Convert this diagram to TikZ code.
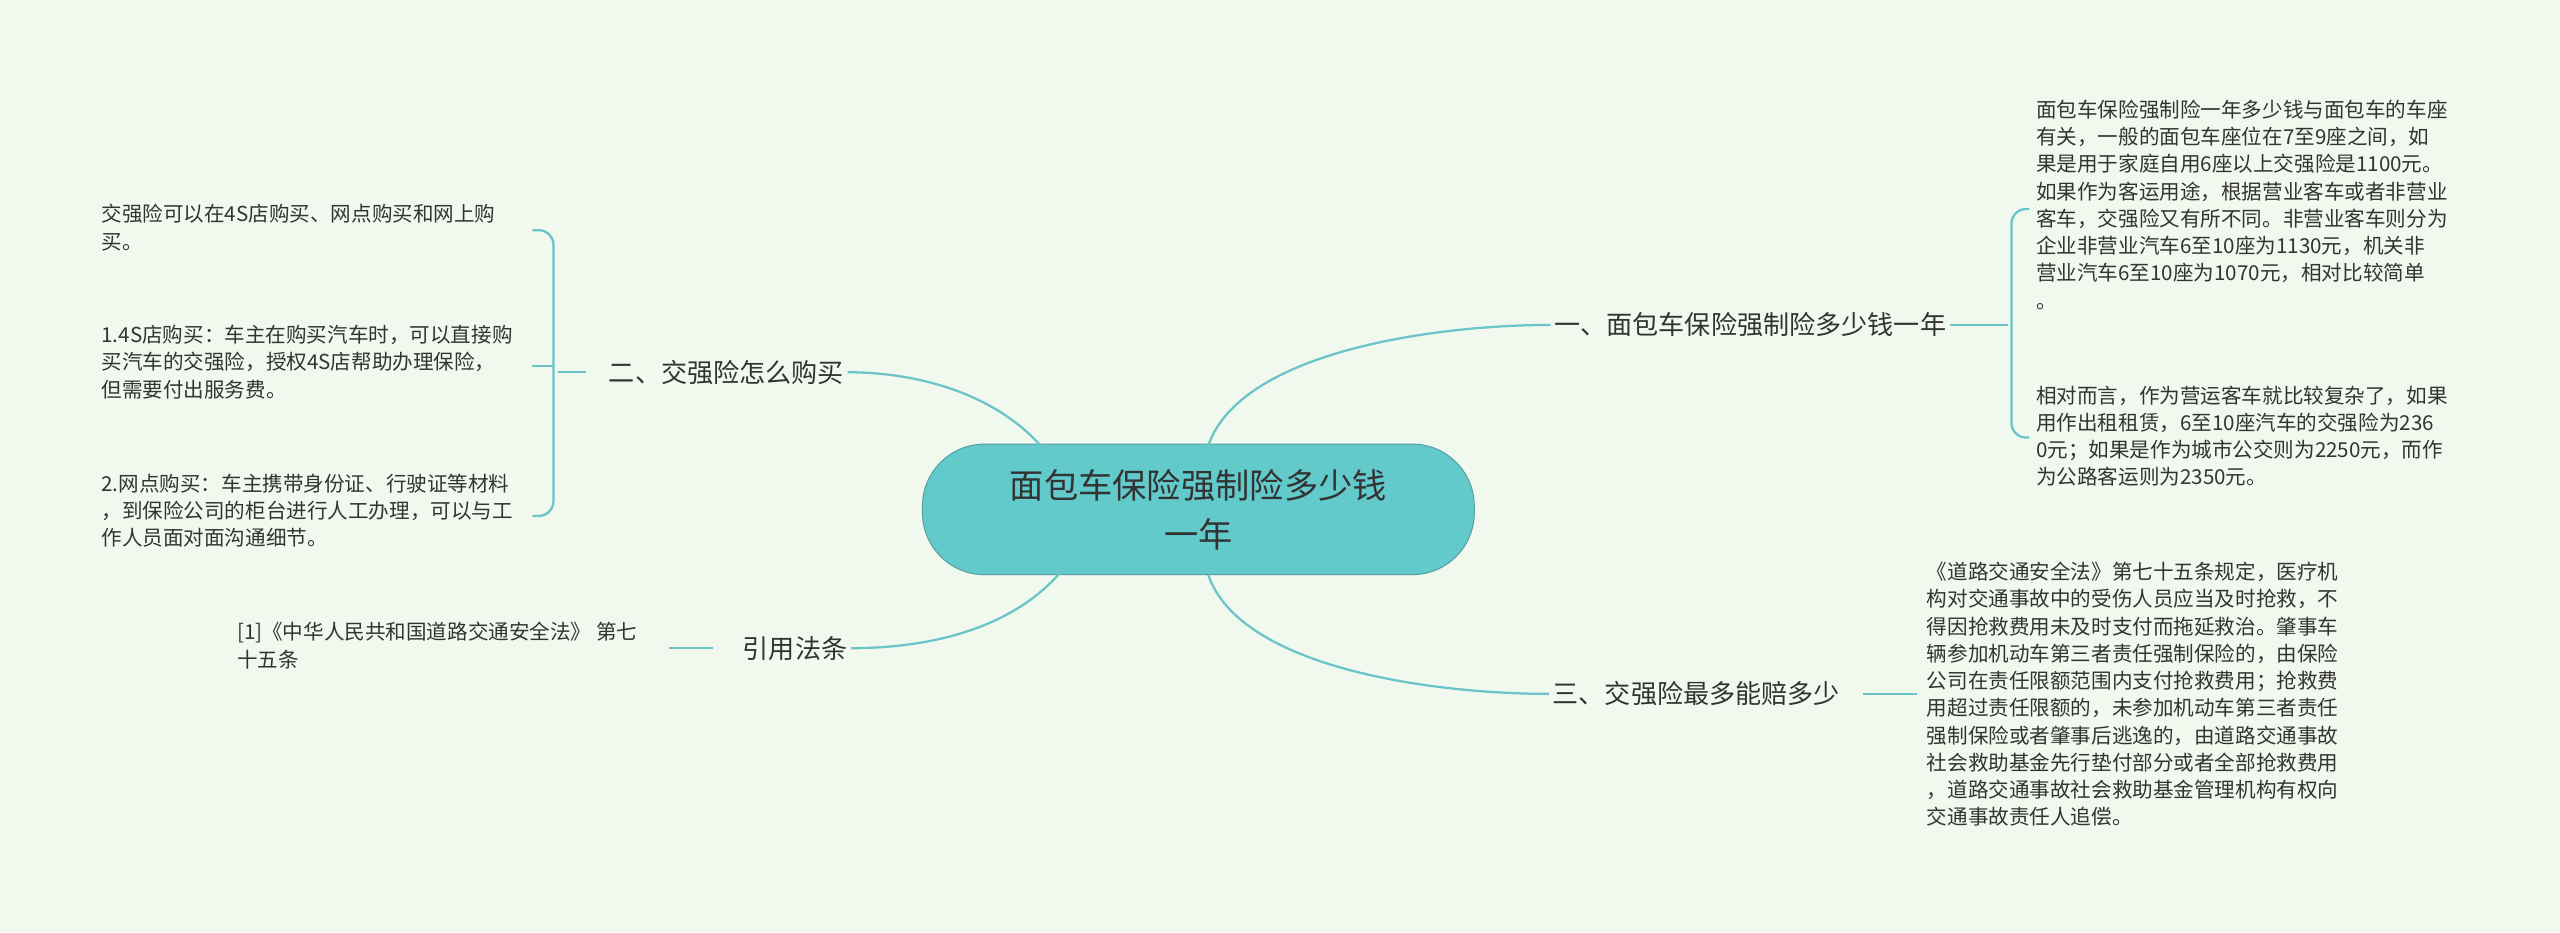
\documentclass[tikz,border=0pt]{standalone}
\usepackage{fontspec}
\setmainfont{Noto Sans CJK SC}
\definecolor{bg}{HTML}{F1F9EF}
\definecolor{ln}{HTML}{6CC4C8}
\definecolor{cf}{HTML}{63CACC}
\definecolor{tx}{HTML}{333333}
\begin{document}
\begin{tikzpicture}[x=1pt,y=-1pt,
  conn/.style={draw=ln,line width=1.4pt},
  leaf/.style={inner sep=0pt,anchor=north west,align=left,text=tx,font=\fontsize{12.6}{16.7}\selectfont},
  branch/.style={inner sep=2pt,text=tx,font=\fontsize{16}{20}\selectfont}]
\fill[bg] (0,0) rectangle (1568,571);
\useasboundingbox (0,0) rectangle (1568,571);
\node[draw=ln!80!black,line width=0.6pt,fill=cf,rounded corners=38pt,minimum width=338pt,minimum height=80pt,align=center,text=tx,font=\fontsize{21}{30}\selectfont] (c) at (734,312) {面包车保险强制险多少钱\\一年};
\node[branch] (b1) at (1072,199) {一、面包车保险强制险多少钱一年};
\node[branch] (b3) at (1039,425) {三、交强险最多能赔多少};
\node[branch] (b2) at (445,228) {二、交强险怎么购买};
\node[branch] (b4) at (487,397) {引用法条};
\draw[conn] (740,273) .. controls (760,215) and (880,199) .. (b1.west);
\draw[conn] (740,352) .. controls (760,410) and (880,425) .. (b3.west);
\draw[conn] (640,276) .. controls (610,240) and (560,228) .. (b2.east);
\draw[conn] (650,350) .. controls (620,385) and (570,397) .. (b4.east);
% right brace 1
\coordinate (r1) at (1230,199);
\draw[conn] (b1.east) -- (r1);
\draw[conn,rounded corners=9pt] (1243,128) -- (1232,128) -- (1232,268) -- (1243,268);
\node[leaf] (t1) at (1247,61) {面包车保险强制险一年多少钱与面包车的车座\\有关，一般的面包车座位在7至9座之间，如\\果是用于家庭自用6座以上交强险是1100元。\\如果作为客运用途，根据营业客车或者非营业\\客车，交强险又有所不同。非营业客车则分为\\企业非营业汽车6至10座为1130元，机关非\\营业汽车6至10座为1070元，相对比较简单\\。};
\node[leaf] (t2) at (1247,236) {相对而言，作为营运客车就比较复杂了，如果\\用作出租租赁，6至10座汽车的交强险为236\\0元；如果是作为城市公交则为2250元，而作\\为公路客运则为2350元。};
% branch 3
\node[leaf] (t3) at (1180,344) {《道路交通安全法》第七十五条规定，医疗机\\构对交通事故中的受伤人员应当及时抢救，不\\得因抢救费用未及时支付而拖延救治。肇事车\\辆参加机动车第三者责任强制保险的，由保险\\公司在责任限额范围内支付抢救费用；抢救费\\用超过责任限额的，未参加机动车第三者责任\\强制保险或者肇事后逃逸的，由道路交通事故\\社会救助基金先行垫付部分或者全部抢救费用\\，道路交通事故社会救助基金管理机构有权向\\交通事故责任人追偿。};
\coordinate (r3) at (1174,425);
\draw[conn] (b3.east) ++(12,0) -- (r3);
% left brace
\coordinate (l2) at (342,228);
\draw[conn] (b2.west) ++(-12,0) -- (l2);
\draw[conn,rounded corners=9pt] (326,141) -- (339,141) -- (339,316) -- (326,316);
\draw[conn] (326,224) -- (339,224);
\node[leaf] (t4) at (62,125) {交强险可以在4S店购买、网点购买和网上购\\买。};
\node[leaf] (t5) at (62,199) {1.4S店购买：车主在购买汽车时，可以直接购\\买汽车的交强险，授权4S店帮助办理保险，\\但需要付出服务费。};
\node[leaf] (t6) at (62,290) {2.网点购买：车主携带身份证、行驶证等材料\\，到保险公司的柜台进行人工办理，可以与工\\作人员面对面沟通细节。};
% references
\node[leaf] (t7) at (145,381) {[1]《中华人民共和国道路交通安全法》 第七\\十五条};
\coordinate (l4) at (410,397);
\draw[conn] (b4.west) ++(-16,0) -- (l4);
\end{tikzpicture}
\end{document}
